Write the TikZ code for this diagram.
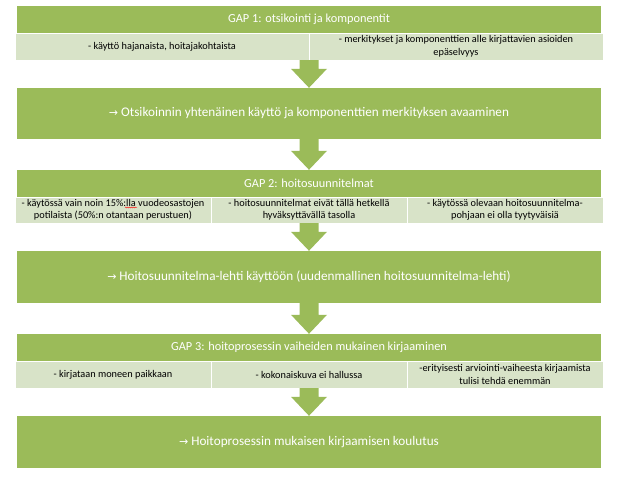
\documentclass[tikz,border=0pt]{standalone}
\usepackage{fontspec}
\setmainfont{Carlito}
\newfontfamily\symfont{DejaVu Sans}
\usetikzlibrary{calc,decorations.pathmorphing}
\definecolor{hdr}{HTML}{9BBB59}
\definecolor{subc}{HTML}{D8E3C8}
\newcommand\arw{{\symfont\fontsize{11}{10}\selectfont →}}
\newcommand\blockarrow[2]{%
  \fill[arrfill] let \p1=(#1.south), \p2=(#2.north) in
    (\x1-9.5pt,\y1) -- (\x1+9.5pt,\y1) -- (\x1+9.5pt,\y2+19pt) -- (\x1+18pt,\y2+19pt)
    -- (\x1,\y2) -- (\x1-18pt,\y2+19pt) -- (\x1-9.5pt,\y2+19pt) -- cycle;}
\begin{document}
\begin{tikzpicture}[x=1pt,y=-1pt,
  hdrbox/.style={rectangle,fill=hdr,inner sep=0pt,minimum width=584pt,minimum height=27pt,text=white,font=\fontsize{12.3}{13}\selectfont},
  bigbox/.style={rectangle,fill=hdr,inner sep=0pt,minimum width=584pt,minimum height=51pt,text=white,font=\fontsize{13.2}{14}\selectfont},
  subrow/.style={rectangle,fill=subc,inner sep=0pt,minimum width=588pt,minimum height=27pt},
  cell/.style={rectangle,fill=subc,draw=white,line width=0.8pt,inner sep=0pt,align=center,minimum height=27pt,font=\fontsize{10.3}{12.5}\selectfont,text=black},
  arrfill/.style={fill=hdr}]
\useasboundingbox (0,0) rectangle (619,489);
% GAP 1
\node[hdrbox] (h1) at (309,19.5) {GAP 1: otsikointi ja komponentit};
\node[subrow] (s1) at (309,46.5) {};
\node[cell,minimum width=294pt] (s1a) at (162,46.5) {- käyttö hajanaista, hoitajakohtaista};
\node[cell,minimum width=294pt] (s1b) at (456,46.5) {- merkitykset ja komponenttien alle kirjattavien asioiden\\epäselvyys};
\node[bigbox] (b2) at (309,113.5) {\arw{} Otsikoinnin yhtenäinen käyttö ja komponenttien merkityksen avaaminen};
% GAP 2
\node[hdrbox] (h2) at (309,183.5) {GAP 2: hoitosuunnitelmat};
\node[subrow,minimum height=26pt] (s2) at (309,210) {};
\node[cell,minimum width=196pt,minimum height=26pt] (s2a) at (113,210) {- käytössä vain noin 15\%:lla vuodeosastojen\\potilaista (50\%:n otantaan perustuen)};
\node[cell,minimum width=196pt,minimum height=26pt] (s2b) at (309,210) {- hoitosuunnitelmat eivät tällä hetkellä\\hyväksyttävällä tasolla};
\node[cell,minimum width=196pt,minimum height=26pt] (s2c) at (505,210) {- käytössä olevaan hoitosuunnitelma-\\pohjaan ei olla tyytyväisiä};
\node[bigbox,minimum height=52pt] (b4) at (309,277) {\arw{} Hoitosuunnitelma-lehti käyttöön (uudenmallinen hoitosuunnitelma-lehti)};
% GAP 3
\node[hdrbox] (h3) at (309,347.5) {GAP 3: hoitoprosessin vaiheiden mukainen kirjaaminen};
\node[subrow] (s3) at (309,374.5) {};
\node[cell,minimum width=196pt] (s3a) at (113,374.5) {- kirjataan moneen paikkaan};
\node[cell,minimum width=196pt] (s3b) at (309,374.5) {- kokonaiskuva ei hallussa};
\node[cell,minimum width=196pt] (s3c) at (505,374.5) {-erityisesti arviointi-vaiheesta kirjaamista\\tulisi tehdä enemmän};
\node[bigbox,minimum height=52pt] (b6) at (309,442) {\arw{} Hoitoprosessin mukaisen kirjaamisen koulutus};
% arrows
\blockarrow{s1}{b2}
\blockarrow{b2}{h2}
\blockarrow{s2}{b4}
\blockarrow{b4}{h3}
\blockarrow{s3}{b6}
% spell-check squiggle
\draw[red,line width=0.4pt,decorate,decoration={snake,segment length=2pt,amplitude=0.5pt}] (125,207.5) -- (137,207.5);
\end{tikzpicture}
\end{document}
